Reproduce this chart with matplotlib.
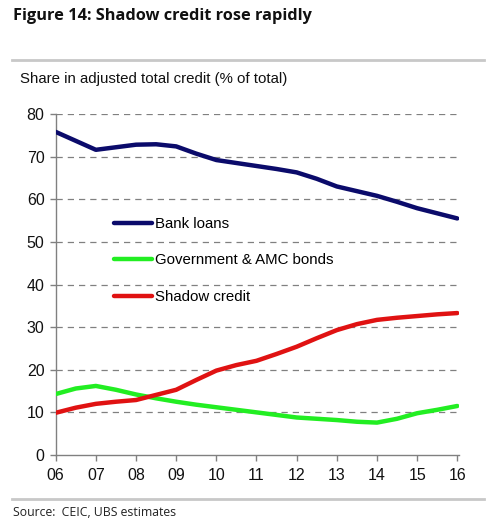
import matplotlib
matplotlib.use("Agg")
import matplotlib.pyplot as plt
import numpy as np

years = [6.0, 6.5, 7.0, 7.5, 8.0, 8.5, 9.0, 9.5, 10.0, 10.5, 11.0, 11.5,
         12.0, 12.5, 13.0, 13.5, 14.0, 14.5, 15.0, 15.5, 16.0]
bank_loans = [75.8, 73.7, 71.6, 72.2, 72.8, 72.9, 72.4, 70.7, 69.2, 68.5, 67.8,
              67.1, 66.3, 64.8, 63.0, 61.9, 60.8, 59.4, 57.9, 56.7, 55.5]
govt_amc = [14.3, 15.6, 16.2, 15.3, 14.2, 13.3, 12.5, 11.8, 11.2, 10.6, 10.0,
            9.4, 8.8, 8.5, 8.2, 7.8, 7.6, 8.5, 9.8, 10.6, 11.5]
shadow = [9.9, 11.1, 12.0, 12.5, 12.9, 14.1, 15.3, 17.6, 19.8, 21.1, 22.1,
          23.7, 25.4, 27.4, 29.3, 30.7, 31.7, 32.2, 32.6, 33.0, 33.3]
xtick_vals = [6, 7, 8, 9, 10, 11, 12, 13, 14, 15, 16]
xtick_labels = ["06", "07", "08", "09", "10", "11", "12", "13", "14", "15", "16"]
ytick_vals = [0, 10, 20, 30, 40, 50, 60, 70, 80]

W, H = 494, 521
fig = plt.figure(figsize=(W / 100, H / 100), dpi=100)
fig.patch.set_facecolor("white")

ax = fig.add_axes([55.7 / W, 1 - 455 / H, (459.3 - 55.7) / W, (455 - 114) / H])

lw = 3.2
ax.plot(years, bank_loans, color="#0b0b6b", lw=lw, solid_capstyle="round",
        solid_joinstyle="round", label="Bank loans", zorder=3)
ax.plot(years, govt_amc, color="#22ee22", lw=lw, solid_capstyle="round",
        solid_joinstyle="round", label="Government & AMC bonds", zorder=3)
ax.plot(years, shadow, color="#e01212", lw=lw, solid_capstyle="round",
        solid_joinstyle="round", label="Shadow credit", zorder=3)

ax.set_xlim(6, 16.05)
ax.set_ylim(0, 80)
ax.set_xticks(xtick_vals)
ax.set_xticklabels(xtick_labels)
ax.set_yticks(ytick_vals)
for v in ytick_vals[1:]:
    ax.axhline(v, color="#808080", lw=0.9, ls=(0, (5, 4)), zorder=1)

for s in ["top", "right"]:
    ax.spines[s].set_visible(False)
for s in ["left", "bottom"]:
    ax.spines[s].set_color("#808080")
    ax.spines[s].set_linewidth(1.0)
ax.tick_params(axis="both", direction="out", length=4, width=1.0, color="#808080",
               labelsize=11.5, labelcolor="#111111", pad=4)
for lab in ax.get_xticklabels() + ax.get_yticklabels():
    lab.set_fontfamily("Liberation Sans")
ax.tick_params(axis="x", pad=5)

leg = ax.legend(loc="upper left", bbox_to_anchor=(0.13, 0.716), frameon=False,
                prop={"family": "Liberation Sans", "size": 10.8},
                handlelength=2.5, handletextpad=0.2, labelspacing=1.5,
                borderaxespad=0)

fig.text(13 / W, 1 - 16 / H, "Figure 14: Shadow credit rose rapidly",
         fontsize=11.8, fontweight="bold", family="Open Sans",
         va="center", ha="left", color="#111111")
fig.add_artist(plt.Line2D([12 / W, 484 / W], [1 - 60 / H, 1 - 60 / H],
                          color="#c8c8c8", lw=2))
fig.text(20 / W, 1 - 79 / H, "Share in adjusted total credit (% of total)",
         fontsize=10.8, family="Liberation Sans", va="center", ha="left",
         color="#111111")
fig.add_artist(plt.Line2D([12 / W, 484 / W], [1 - 499 / H, 1 - 499 / H],
                          color="#c8c8c8", lw=2))
fig.text(13 / W, 1 - 512 / H, "Source:  CEIC, UBS estimates",
         fontsize=8.8, family="Open Sans", va="center", ha="left",
         color="#222222")

fig.savefig("out.png", dpi=100, facecolor="white")
